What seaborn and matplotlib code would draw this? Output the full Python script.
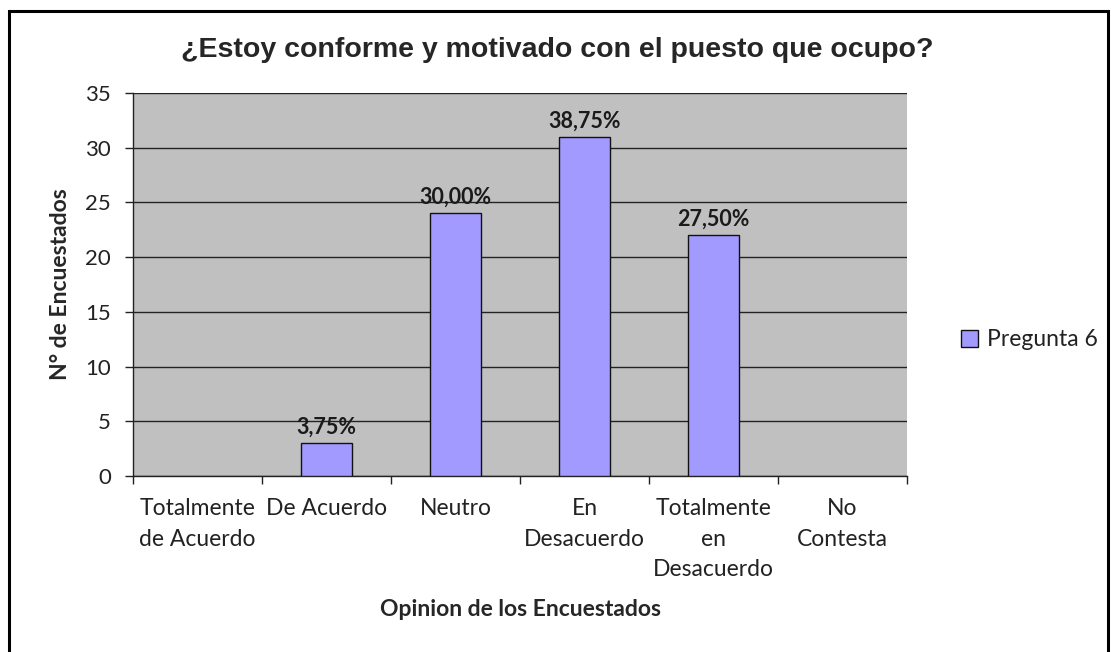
import matplotlib
matplotlib.use("Agg")
import matplotlib.pyplot as plt
import seaborn as sns
import pandas as pd
from matplotlib.patches import Rectangle, Patch

categories = ["Totalmente\nde Acuerdo", "De Acuerdo", "Neutro", "En\nDesacuerdo",
              "Totalmente\nen\nDesacuerdo", "No\nContesta"]
values = [0, 3, 24, 31, 22, 0]
pct_labels = ["", "3,75%", "30,00%", "38,75%", "27,50%", ""]
yticks = [0, 5, 10, 15, 20, 25, 30, 35]
series_name = "Pregunta 6"
title = "¿Estoy conforme y motivado con el puesto que ocupo?"
xlabel = "Opinion de los Encuestados"
ylabel = "N° de Encuestados"

sns.set_style("white")
plt.rcParams['font.family'] = ['Lato', 'DejaVu Sans']

df = pd.DataFrame({"cat": categories, "val": values})

W, H = 1111, 652
fig = plt.figure(figsize=(W / 100, H / 100), dpi=100)
fig.patch.set_facecolor("white")

ax = fig.add_axes([133 / W, (H - 476) / H, 774 / W, 383 / H])
ax.set_facecolor("#C0C0C0")
bar_color = "#A29AFF"
sns.barplot(data=df, x="cat", y="val", color=bar_color, width=0.4, saturation=1,
            edgecolor="#111111", linewidth=1.0, ax=ax, zorder=3)
for p in ax.patches:
    p.set_zorder(3)
    if p.get_height() == 0:
        p.set_visible(False)

ax.set_ylim(0, 35)
ax.set_xlim(-0.5, len(categories) - 0.5)
ax.set_yticks(yticks)
ax.yaxis.grid(True, color="#222222", linewidth=1.0, zorder=1)
ax.xaxis.grid(False)
ax.set_axisbelow(True)

for s in ["top", "right"]:
    ax.spines[s].set_visible(False)
for s in ["left", "bottom"]:
    ax.spines[s].set_color("#222222")
    ax.spines[s].set_linewidth(1.0)

ax.tick_params(axis="y", which="major", direction="out", length=6, width=1,
               color="#222222", labelsize=16, labelcolor="#222222", pad=10, left=True)
ax.set_xticks(range(len(categories)))
ax.set_xticklabels(categories, fontsize=16.5, color="#222222", linespacing=1.55)
ax.tick_params(axis="x", which="major", length=0, pad=16)
ax.set_xticks([i - 0.5 for i in range(len(categories) + 1)], minor=True)
ax.tick_params(axis="x", which="minor", direction="out", length=6, width=1,
               color="#222222", bottom=True)

for i, (v, lab) in enumerate(zip(values, pct_labels)):
    if lab:
        ax.annotate(lab, (i, v), xytext=(0, 4), textcoords="offset points",
                    ha="center", va="bottom", fontsize=15.5, fontweight="bold",
                    color="#1a1a1a", zorder=5)

ax.set_xlabel(xlabel, fontsize=16.5, fontweight="bold", labelpad=14)
ax.set_ylabel(ylabel, fontsize=16.5, fontweight="bold", labelpad=10)

fig.text(0.5 * (180 + 935) / W, 1 - 50 / H, title, ha="center", va="center",
         fontsize=20.5, fontweight="bold", family=["Liberation Sans", "DejaVu Sans"])

handles = [Patch(facecolor=bar_color, edgecolor="#111111", linewidth=1.0)]
fig.legend(handles, [series_name], loc="center left",
           bbox_to_anchor=(940 / W, 1 - 340 / H), frameon=False,
           fontsize=16.5, handlelength=0.75, handleheight=0.75, handletextpad=0.4,
           labelcolor="#222222")

fig.patches.append(Rectangle((9 / W, -0.02), (1108 - 9) / W, 1.02 - 11 / H,
                             transform=fig.transFigure, fill=False,
                             edgecolor="black", linewidth=2.2))

fig.savefig("out.png", dpi=100)
